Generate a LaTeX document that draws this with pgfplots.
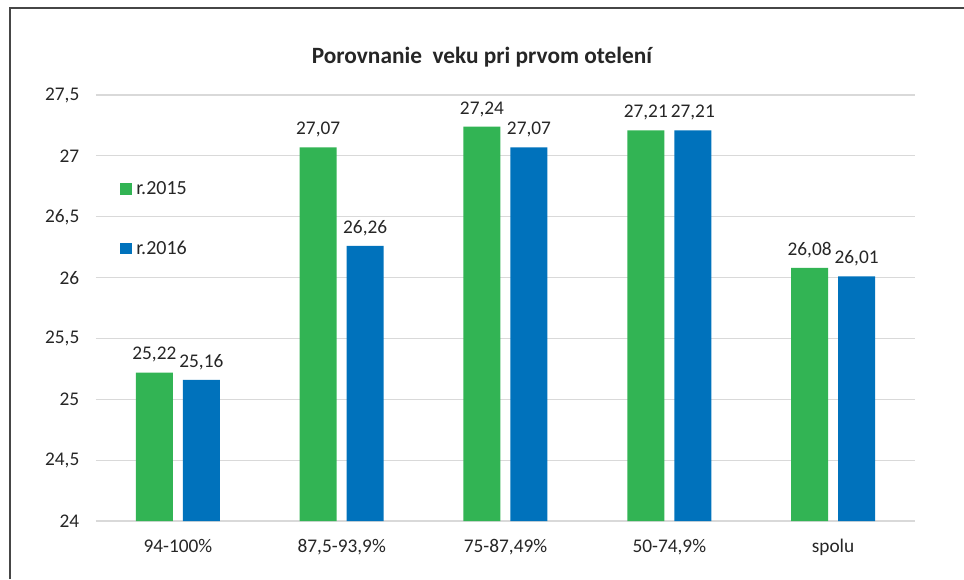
\documentclass[border=0pt]{standalone}
\usepackage{fontspec}
\setmainfont{Carlito}
\usepackage{pgfplots}
\pgfplotsset{compat=1.18}
\definecolor{cgreen}{RGB}{50,180,84}
\definecolor{cblue}{RGB}{0,114,188}
\definecolor{cgrid}{RGB}{217,217,217}
\definecolor{ctext}{RGB}{38,38,38}
\definecolor{cframe}{RGB}{70,70,70}
\begin{document}
\begin{tikzpicture}
\useasboundingbox (0pt,0pt) rectangle (723pt,434.25pt);
\fill[white] (0pt,0pt) rectangle (723pt,434.25pt);
\draw[cframe, line width=1pt] (7.5pt,0pt) -- (7.5pt,428.25pt) -- (723pt,428.25pt);
\node[font=\bfseries\fontsize{17.5}{20}\selectfont, text=ctext] at (361.5pt,391.5pt) {Porovnanie\ \ veku pri prvom otelení};
\begin{axis}[
  at={(72pt,43.5pt)}, anchor=south west,
  scale only axis, width=614.25pt, height=319.5pt,
  ybar=7.5pt, bar width=27.75pt,
  xmin=-0.5, xmax=4.5, ymin=24, ymax=27.5,
  enlargelimits=false,
  xtick={0,1,2,3,4},
  xticklabels={94-100\%,{87,5-93,9\%},{75-87,49\%},{50-74,9\%},spolu},
  ytick={24,24.5,25,25.5,26,26.5,27,27.5},
  /pgf/number format/assume math mode=true,
  /pgf/number format/use comma,
  /pgf/number format/1000 sep={},
  major tick length=0pt,
  axis line style={draw=none},
  ymajorgrids, major grid style={cgrid, line width=0.9pt},
  tick label style={font=\fontsize{14.5}{16}\selectfont, text=ctext},
  yticklabel style={xshift=-9pt},
  xticklabel style={yshift=-10pt},
  nodes near coords={\pgfmathprintnumber[fixed,fixed zerofill,precision=2,use comma,assume math mode=true]{\pgfplotspointmeta}},
  every node near coord/.append style={font=\fontsize{14.5}{16}\selectfont, text=ctext, yshift=4pt},
  legend style={at={(0.0293,0.802)}, anchor=north west, draw=none, fill=none,
    inner sep=0pt, row sep=30pt, font=\fontsize{15}{17}\selectfont, text=ctext,
    nodes={inner sep=1.5pt}},
  legend cell align=left,
  legend image code/.code={\fill[#1] (0pt,-4.3pt) rectangle (9pt,4.3pt);},
  /tikz/every odd column/.append style={column sep=1.5pt},
]
\addplot[draw=none, fill=cgreen] coordinates {(0,25.22) (1,27.07) (2,27.24) (3,27.21) (4,26.08)};
\addplot[draw=none, fill=cblue] coordinates {(0,25.16) (1,26.26) (2,27.07) (3,27.21) (4,26.01)};
\legend{r.2015, r.2016}
\end{axis}
\end{tikzpicture}
\end{document}
